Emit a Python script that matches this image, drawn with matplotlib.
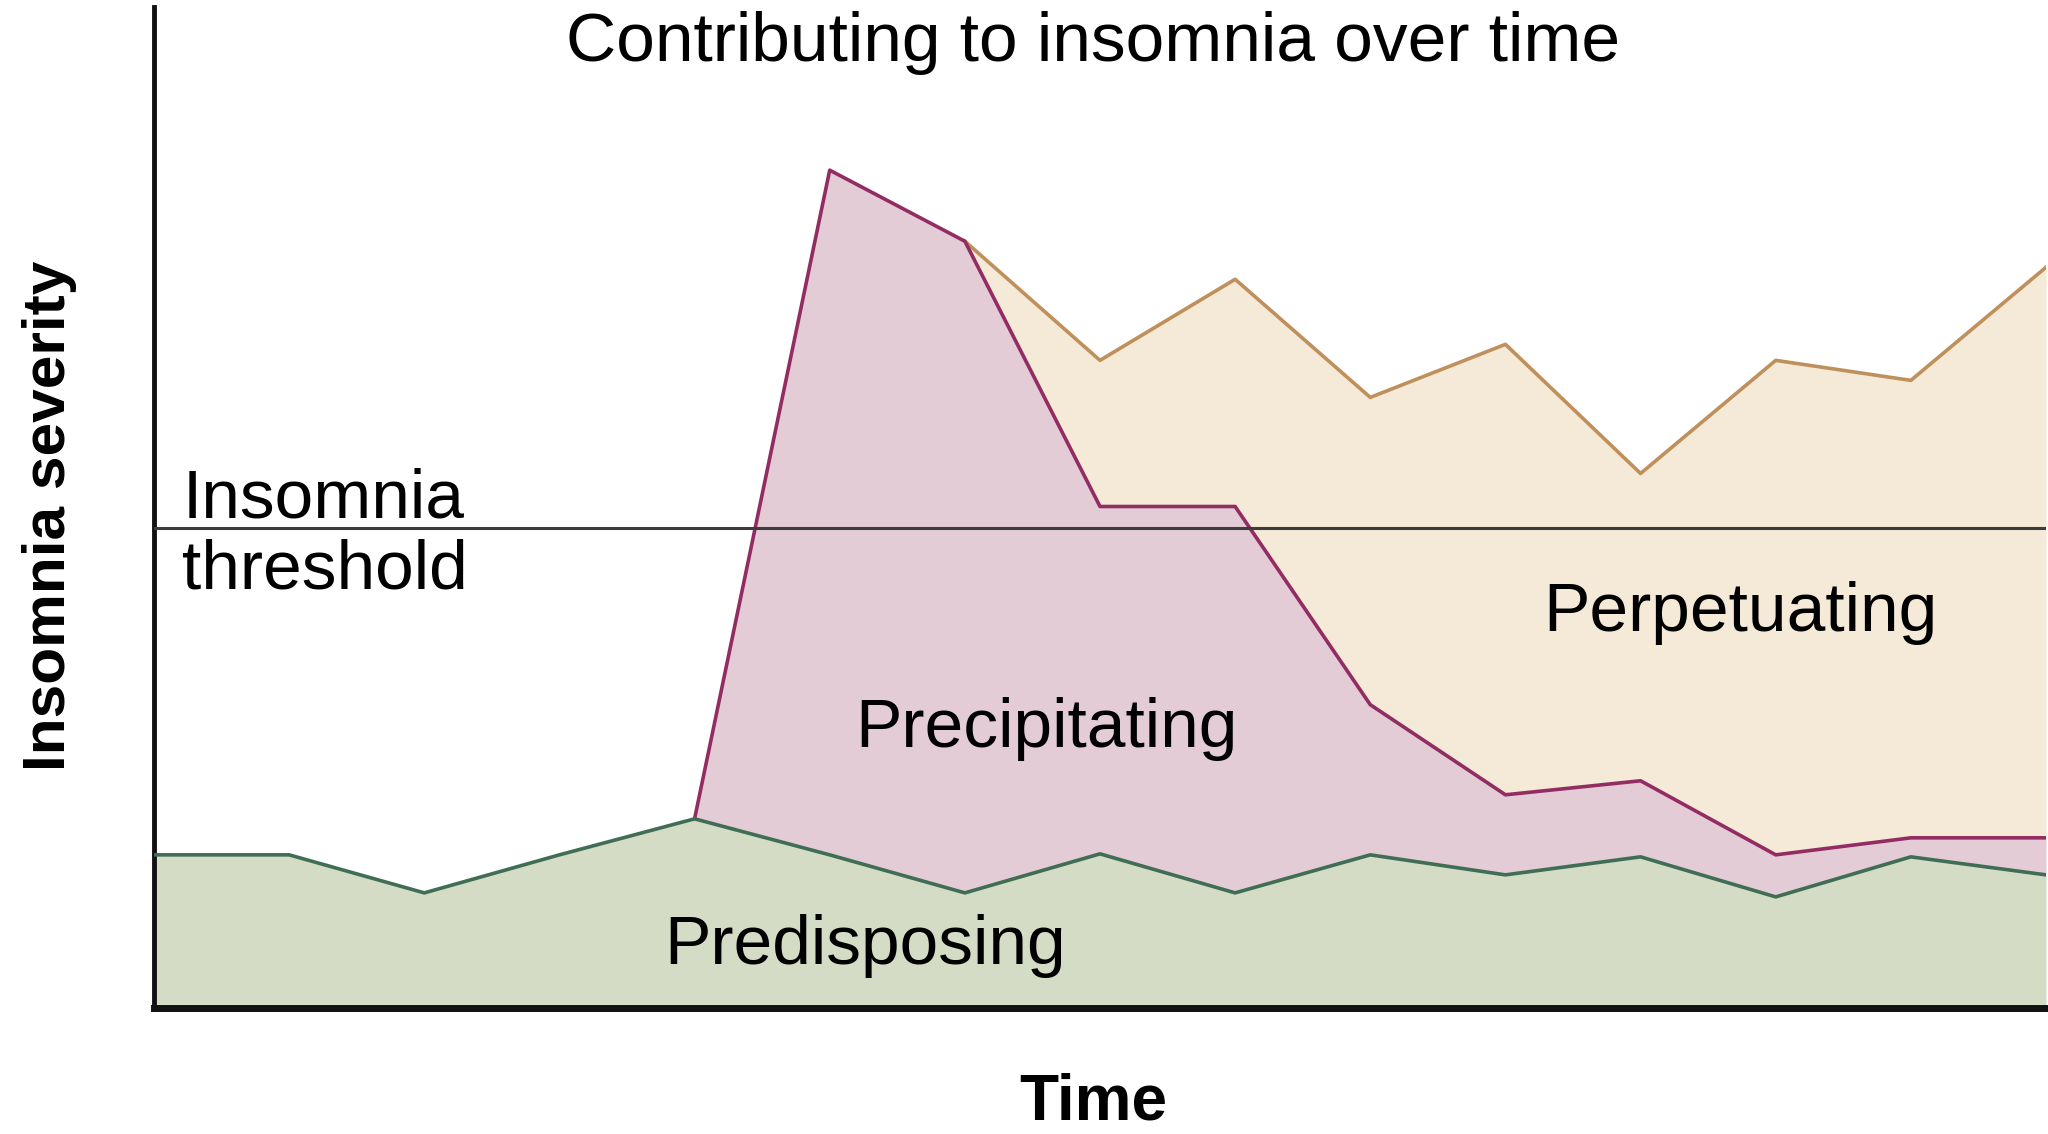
import numpy as np
import matplotlib
matplotlib.use("Agg")
import matplotlib.pyplot as plt

plt.rcParams['font.family'] = ['Liberation Sans', 'DejaVu Sans']

# time steps and the three stacked contributions (0-100 severity scale)
time = np.arange(15)
predisposing = [15.3, 15.3, 11.5, 15.3, 18.9, 15.3, 11.5, 15.4, 11.5, 15.3, 13.3, 15.1, 11.1, 15.1, 13.3]
precipitating = [0, 0, 0, 0, 0, 68.4, 65.1, 34.7, 38.6, 15.0, 8.0, 7.6, 4.2, 1.9, 3.7]
perpetuating = [0, 0, 0, 0, 0, 0, 0, 14.6, 22.7, 30.7, 45.0, 30.7, 49.4, 45.7, 57.0]
threshold = 48.0
precip_start = 4
perpet_start = 6

title = "Contributing to insomnia over time"
labels = ["Predisposing", "Precipitating", "Perpetuating"]

green_fill, green_line = "#d4dcc6", "#3f6e55"
pink_fill, pink_line = "#e4ccd6", "#922c62"
tan_fill, tan_line = "#f5e9d7", "#c0905c"

pre = np.array(predisposing)
pcp = pre + np.array(precipitating)
per = pcp + np.array(perpetuating)

fig = plt.figure(figsize=(20.48, 11.34), dpi=100)
ax = fig.add_axes([154/2048, 126/1134, (2046-154)/2048, (1008-7)/1134])

ax.fill_between(time, pcp, per, color=tan_fill, lw=0, zorder=1)
ax.fill_between(time, pre, pcp, color=pink_fill, lw=0, zorder=1)
ax.fill_between(time, 0, pre, color=green_fill, lw=0, zorder=1)

ax.plot(time[perpet_start:], per[perpet_start:], color=tan_line, lw=2.6, zorder=3)
ax.plot(time[precip_start:], pcp[precip_start:], color=pink_line, lw=2.6, zorder=4)
ax.plot(time, pre, color=green_line, lw=2.6, zorder=5)

ax.axhline(threshold, color="#3c3c3c", lw=2.2, zorder=6)

ax.set_xlim(0, 14)
ax.set_ylim(0, 100)
ax.set_xticks([])
ax.set_yticks([])
for s in ["top", "right"]:
    ax.spines[s].set_visible(False)
ax.spines["left"].set_linewidth(3.5)
ax.spines["bottom"].set_linewidth(5)
ax.spines["left"].set_color("#111111")
ax.spines["bottom"].set_color("#111111")
ax.set_facecolor("none")

fs = 50
ax.text(0.21, 49.0, "Insomnia", fontsize=fs, ha="left", va="baseline", zorder=7)
ax.text(0.21, 41.9, "threshold", fontsize=fs, ha="left", va="baseline", zorder=7)
ax.text(6.60, 26.1, labels[1], fontsize=fs, ha="center", va="baseline", zorder=7)
ax.text(11.74, 37.7, labels[2], fontsize=fs, ha="center", va="baseline", zorder=7)
ax.text(5.26, 4.4, labels[0], fontsize=fs, ha="center", va="baseline", zorder=7)

fig.text(1093/2048, 1 - 61/1134, title, fontsize=fs, ha="center", va="baseline")
fig.text(0.534, 0.013, "Time", fontsize=46, fontweight="bold", ha="center", va="baseline")
fig.text(0.0244, 0.545, "Insomnia severity", fontsize=43.5, fontweight="bold",
         rotation=90, ha="center", va="center")

fig.savefig("out.png", dpi=100)
